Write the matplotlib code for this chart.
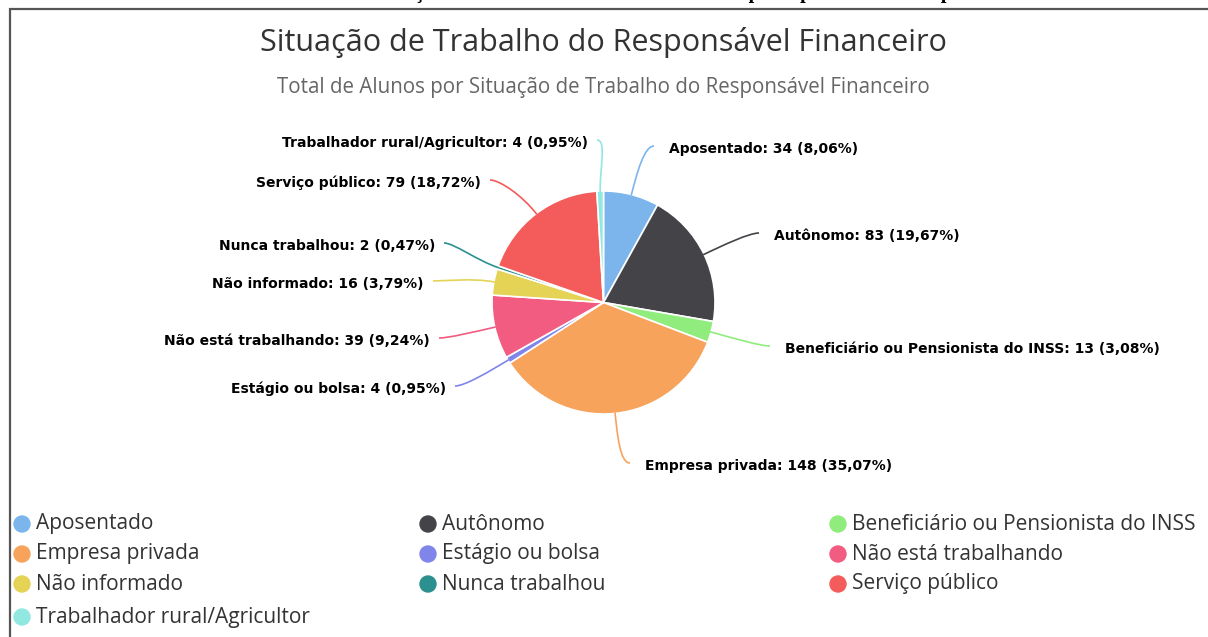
import numpy as np
import matplotlib
matplotlib.use("Agg")
import matplotlib.pyplot as plt
from matplotlib.path import Path
from matplotlib.patches import PathPatch, Circle

# data
categories = ["Aposentado", "Autônomo", "Beneficiário ou Pensionista do INSS",
              "Empresa privada", "Estágio ou bolsa", "Não está trabalhando",
              "Não informado", "Nunca trabalhou", "Serviço público",
              "Trabalhador rural/Agricultor"]
values = [34, 83, 13, 148, 4, 39, 16, 2, 79, 4]
colors = ["#7cb5ec", "#434348", "#90ed7d", "#f7a35c", "#8085e9",
          "#f15c80", "#e4d354", "#2b908f", "#f45b5b", "#91e8e1"]

title = "Situação de Trabalho do Responsável Financeiro"
subtitle = "Total de Alunos por Situação de Trabalho do Responsável Financeiro"
heading = "Situação de trabalho do chefe de família e o principal mantenedor por aluno"

# label layout (pixel coords): anchor x, y, side
label_pos = [(669, 149, "left"), (774, 236, "left"), (785, 349, "left"),
             (645, 466, "left"), (446, 389, "right"), (430, 341, "right"),
             (424, 284, "right"), (435, 246, "right"), (481, 183, "right"),
             (588, 143, "right")]

W, H = 1208, 637
cx, cy, R = 603.5, 302.5, 111.5

fig = plt.figure(figsize=(W / 100, H / 100), dpi=100)
ax = fig.add_axes([0, 0, 1, 1])

# y axis points down, so start at -90 and go counterclockwise in data space
wedges, _ = ax.pie(values, colors=colors, center=(cx, cy), radius=R,
                   startangle=-90, counterclock=True, frame=True,
                   wedgeprops=dict(edgecolor="white", linewidth=1.2))
ax.set_xlim(0, W)
ax.set_ylim(H, 0)
ax.set_aspect("auto")
ax.axis("off")

total = sum(values)
fmt = lambda v: f"{v / total * 100:.2f}".replace(".", ",")

cum = np.cumsum([0] + values)
for i, (v, c) in enumerate(zip(values, colors)):
    mid = (cum[i] + v / 2) / total * 2 * np.pi
    dx, dy = np.sin(mid), -np.cos(mid)
    p0 = (cx + dx * (R - 1), cy + dy * (R - 1))
    p1 = (cx + dx * (R + 22), cy + dy * (R + 22))
    lx, ly, side = label_pos[i]
    if side == "left":
        end = (lx - 15, ly - 3)
        p2 = (end[0] - 10, end[1])
    else:
        end = (lx + 9, ly - 3)
        p2 = (end[0] + 10, end[1])
    path = Path([p0, p1, p2, end],
                [Path.MOVETO, Path.CURVE4, Path.CURVE4, Path.CURVE4])
    ax.add_patch(PathPatch(path, fc="none", ec=c, lw=1.2))
    ax.text(lx, ly, f"{categories[i]}: {v} ({fmt(v)}%)", ha=side, va="center",
            fontsize=10, fontweight="bold", color="#000000",
            family="DejaVu Sans")

# titles
ax.text(603, 42, title, ha="center", va="center", fontsize=22,
        color="#333333", family="Open Sans")
ax.text(603, 87, subtitle, ha="center", va="center", fontsize=14.8,
        color="#666666", family="Open Sans")

# partially cut heading of the document above the chart
ax.text(370, -2, heading, ha="left", va="baseline", fontsize=14.5,
        fontweight="bold", color="#000000", family="Liberation Serif")

# frame of the screenshot
ax.plot([10, 10, W], [H, 8.5, 8.5], color="#555555", lw=1.6,
        solid_joinstyle="miter")

# legend
col_x = [22, 428, 838]
row_y = [524, 554, 584, 617]
for i, (name, c) in enumerate(zip(categories, colors)):
    r, k = divmod(i, 3)
    x, y = col_x[k], row_y[r]
    ax.add_patch(Circle((x, y), 8, color=c))
    ax.text(x + 14, y, name, ha="left", va="center", fontsize=15,
            color="#333333", family="Open Sans")

fig.savefig("out.png", dpi=100)
